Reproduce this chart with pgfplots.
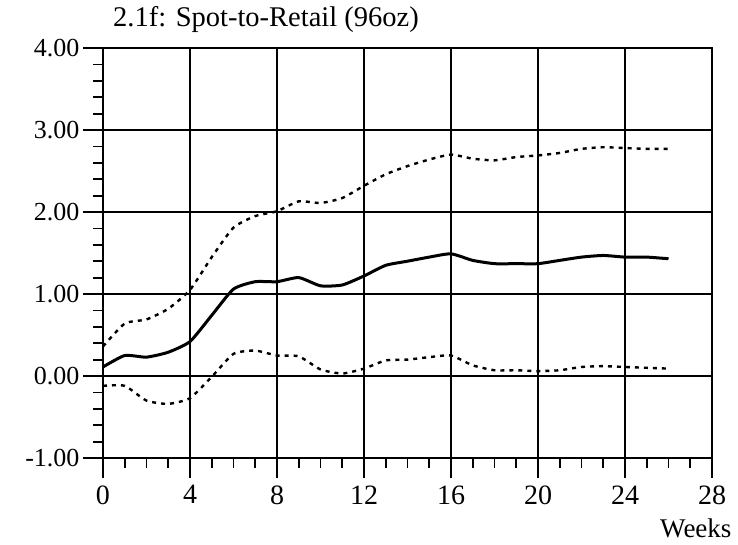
\documentclass[border=0pt]{standalone}
\usepackage{fontspec}
\setmainfont{Liberation Serif}
\usepackage{pgfplots}
\pgfplotsset{compat=1.18}
\begin{document}
\begin{tikzpicture}
\path[use as bounding box] (-103pt,-86pt) rectangle (635pt,458pt);
\begin{axis}[
  scale only axis, width=609pt, height=410pt,
  at={(0pt,0pt)}, anchor=south west,
  xmin=0, xmax=28, ymin=-1, ymax=4,
  xtick={0,4,...,28}, minor x tick num=3,
  ytick={-1,0,...,4}, minor y tick num=4,
  xtick pos=left, ytick pos=left,
  tick align=outside,
  major tick length=20pt, minor tick length=10pt,
  every tick/.style={black, line width=1.8pt},
  axis line style={line width=2.4pt},
  grid=major, major grid style={black, line width=1.4pt},
  yticklabel style={/pgf/number format/fixed, /pgf/number format/fixed zerofill, /pgf/number format/precision=2, font=\fontsize{26}{30}\selectfont},
  xticklabel style={font=\fontsize{28}{32}\selectfont, yshift=-4pt},
  /pgf/number format/assume math mode=true,
]
\addplot[black, line width=3pt, line join=round, smooth, tension=0.35] coordinates {
(0,0.11) (1,0.25) (2,0.23) (3,0.29) (4,0.42) (5,0.74) (6,1.06) (7,1.15) (8,1.15)
(9,1.20) (10,1.10) (11,1.11) (12,1.22) (13,1.35) (14,1.40) (15,1.45) (16,1.49)
(17,1.41) (18,1.37) (19,1.37) (20,1.37) (21,1.41) (22,1.45) (23,1.47) (24,1.45)
(25,1.45) (26,1.43)};
\addplot[black, line width=2.4pt, dash pattern=on 4pt off 5pt, smooth, tension=0.35] coordinates {
(0,0.36) (1,0.64) (2,0.69) (3,0.82) (4,1.05) (5,1.45) (6,1.81) (7,1.95) (8,2.01)
(9,2.13) (10,2.11) (11,2.17) (12,2.32) (13,2.46) (14,2.56) (15,2.64) (16,2.70)
(17,2.65) (18,2.63) (19,2.67) (20,2.69) (21,2.72) (22,2.77) (23,2.79) (24,2.78)
(25,2.77) (26,2.77)};
\addplot[black, line width=2.4pt, dash pattern=on 4pt off 5pt, smooth, tension=0.35] coordinates {
(0,-0.12) (1,-0.12) (2,-0.30) (3,-0.34) (4,-0.27) (5,-0.01) (6,0.27) (7,0.31) (8,0.25)
(9,0.24) (10,0.08) (11,0.03) (12,0.09) (13,0.19) (14,0.20) (15,0.23) (16,0.25)
(17,0.13) (18,0.07) (19,0.07) (20,0.06) (21,0.07) (22,0.11) (23,0.12) (24,0.11)
(25,0.10) (26,0.09)};
\end{axis}
\node[font=\fontsize{28.5}{32}\selectfont] at (163pt,438pt) {2.1f: Spot-to-Retail (96oz)};
\node[font=\fontsize{27}{30}\selectfont, anchor=east] at (632pt,-70pt) {Weeks};
\end{tikzpicture}
\end{document}
